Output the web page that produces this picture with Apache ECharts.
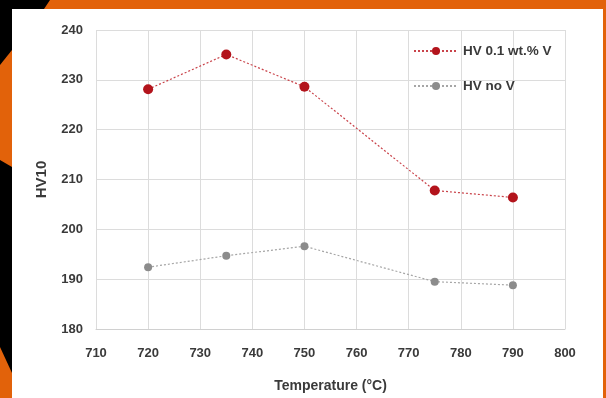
<!DOCTYPE html>
<html><head><meta charset="utf-8">
<script src="https://cdn.jsdelivr.net/npm/echarts@6/dist/echarts.min.js"></script>
<style>html,body{margin:0;padding:0;background:#000}#c{width:606px;height:398px}</style>
</head><body><div id="c"></div>
<script>
const temperatures = [720, 735, 750, 775, 790];
const hvWithV = [228.1, 235.1, 228.6, 207.8, 206.4];
const hvNoV = [192.4, 194.7, 196.6, 189.5, 188.8];
const seriesNames = ['HV 0.1 wt.% V', 'HV no V'];
const xTitle = 'Temperature (°C)';
const yTitle = 'HV10';

const FONT = '"Liberation Sans",sans-serif';
const TXT = '#3a3a3a';
const chart = echarts.init(document.getElementById('c'), null, {renderer: 'canvas'});
chart.setOption({
  backgroundColor: '#000',
  animation: false,
  graphic: [
    {type: 'polygon', shape: {points: [[50,0],[606,0],[606,398],[600,398],[600,9],[44,9]]}, style: {fill: '#e2620a'}, z: 0},
    {type: 'polygon', shape: {points: [[0,65],[12,50],[12,167],[0,160]]}, style: {fill: '#e2620a'}, z: 0},
    {type: 'polygon', shape: {points: [[0,347],[12,373],[12,398],[0,398]]}, style: {fill: '#e2620a'}, z: 0},
    {type: 'rect', shape: {x: 12, y: 9, width: 591, height: 389}, style: {fill: '#fff'}, z: 0}
  ],
  grid: {left: 96, right: 41, top: 30, bottom: 69},
  legend: {
    left: 408, top: 39, orient: 'vertical', itemGap: 21, itemWidth: 44, itemHeight: 10,
    textStyle: {fontFamily: FONT, fontSize: 13.5, color: TXT, fontWeight: 'bold'},
    data: seriesNames
  },
  xAxis: {
    type: 'value', min: 710, max: 800, interval: 10,
    name: xTitle, nameLocation: 'middle', nameGap: 50,
    nameTextStyle: {fontFamily: FONT, fontSize: 14, color: TXT, fontWeight: 'bold'},
    axisLine: {lineStyle: {color: '#d0d0d0'}},
    axisTick: {show: false},
    axisLabel: {margin: 18, fontFamily: FONT, fontSize: 13, color: TXT, fontWeight: 'bold'},
    splitLine: {show: true, lineStyle: {color: '#dcdcdc'}}
  },
  yAxis: {
    type: 'value', min: 180, max: 240, interval: 10,
    name: yTitle, nameLocation: 'middle', nameGap: 47,
    nameTextStyle: {fontFamily: FONT, fontSize: 15, color: TXT, fontWeight: 'bold'},
    axisLine: {show: false},
    axisTick: {show: false},
    axisLabel: {margin: 13, fontFamily: FONT, fontSize: 13, color: TXT, fontWeight: 'bold'},
    splitLine: {show: true, lineStyle: {color: '#dcdcdc'}}
  },
  series: [
    {
      name: seriesNames[0], type: 'line',
      data: temperatures.map((t, i) => [t, hvWithV[i]]),
      symbol: 'circle', symbolSize: 10,
      itemStyle: {color: '#b3141c'},
      lineStyle: {color: '#c9434a', width: 1.2, type: [2, 2]}
    },
    {
      name: seriesNames[1], type: 'line',
      data: temperatures.map((t, i) => [t, hvNoV[i]]),
      symbol: 'circle', symbolSize: 8,
      itemStyle: {color: '#8c8c8c'},
      lineStyle: {color: '#a6a6a6', width: 1.2, type: [2, 2]}
    }
  ]
});
</script></body></html>
